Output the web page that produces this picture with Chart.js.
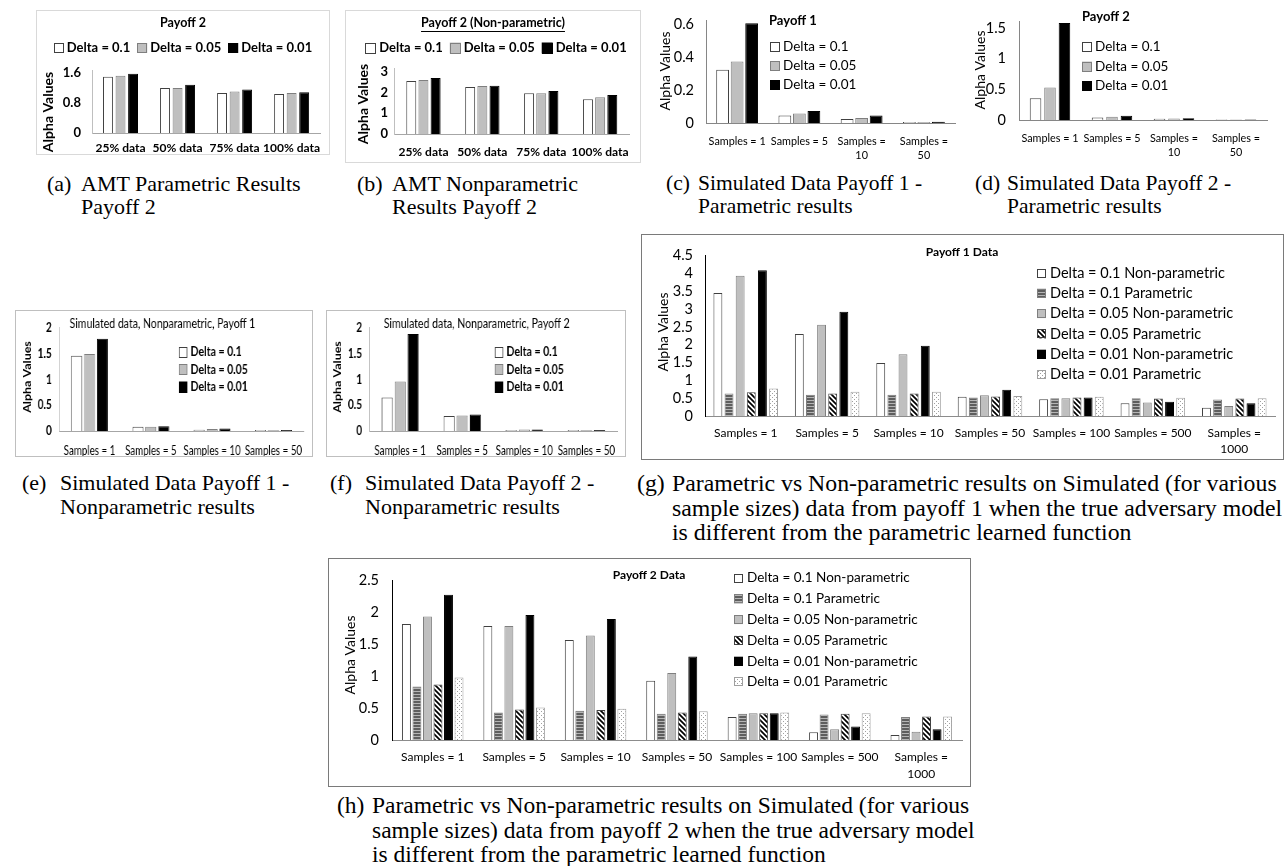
<!DOCTYPE html>
<html>
<head>
<meta charset="utf-8">
<script src="https://cdn.jsdelivr.net/npm/chart.js@4.4.1/dist/chart.umd.min.js"></script>
<style>
  body { margin: 0; background: #fff; width: 1285px; height: 866px; position: relative; overflow: hidden; }
  .panel { position: absolute; }
  .panel canvas { display: block; }
  .light { border: 1px solid #d9d9d9; }
  .mid { border: 1px solid #bfbfbf; }
  .dark { border: 1px solid #7a7a7a; }
  .cap { position: absolute; display: flex; font-family: "Liberation Serif", "DejaVu Serif", serif; font-size: 22px; line-height: 23px; white-space: nowrap; color: #000; }
  .cap .lab { display: inline-block; flex: none; }
</style>
</head>
<body>

<div class="panel light" style="left:36px;top:10px"><canvas id="chartA" width="292" height="143"></canvas></div>
<div class="panel light" style="left:345px;top:10px"><canvas id="chartB" width="294" height="151"></canvas></div>
<div class="panel" style="left:650px;top:0px"><canvas id="chartC" width="315" height="165"></canvas></div>
<div class="panel" style="left:965px;top:0px"><canvas id="chartD" width="320" height="165"></canvas></div>
<!-- (e) and (f) were squeezed sideways in the original figure: draw wide, show narrow -->
<div class="panel mid" style="left:15px;top:310px"><canvas id="chartE" width="380" height="145" style="width:296px;height:145px"></canvas></div>
<div class="panel mid" style="left:326px;top:310px"><canvas id="chartF" width="382" height="145" style="width:298px;height:145px"></canvas></div>
<div class="panel dark" style="left:641px;top:234px"><canvas id="chartG" width="641" height="224"></canvas></div>
<div class="panel dark" style="left:328px;top:558px"><canvas id="chartH" width="641" height="227"></canvas></div>

<div class="cap" style="left:47px;top:172px"><span class="lab" style="width:34px">(a)</span><span>AMT Parametric Results<br>Payoff 2</span></div>
<div class="cap" style="left:357px;top:172px"><span class="lab" style="width:35px">(b)</span><span>AMT Nonparametric<br>Results Payoff 2</span></div>
<div class="cap" style="left:666px;top:172px;font-size:21.5px"><span class="lab" style="width:32px">(c)</span><span>Simulated Data Payoff 1 -<br>Parametric results</span></div>
<div class="cap" style="left:975px;top:172px;font-size:21.5px"><span class="lab" style="width:32px">(d)</span><span>Simulated Data Payoff 2 -<br>Parametric results</span></div>
<div class="cap" style="left:22px;top:471px;line-height:24px"><span class="lab" style="width:38px">(e)</span><span>Simulated Data Payoff 1 -<br>Nonparametric results</span></div>
<div class="cap" style="left:330px;top:471px;line-height:24px"><span class="lab" style="width:35px">(f)</span><span>Simulated Data Payoff 2 -<br>Nonparametric results</span></div>
<div class="cap" style="left:637px;top:471px;font-size:23.8px;line-height:24.5px"><span class="lab" style="width:35px">(g)</span><span>Parametric vs Non-parametric results on Simulated (for various<br>sample sizes) data from payoff 1 when the true adversary model<br>is different from the parametric learned function</span></div>
<div class="cap" style="left:337px;top:793px;font-size:23.5px;line-height:24.5px"><span class="lab" style="width:35px">(h)</span><span>Parametric vs Non-parametric results on Simulated (for various<br>sample sizes) data from payoff 2 when the true adversary model<br>is different from the parametric learned function</span></div>

<script>
// category labels
const amtLabels = ["25% data", "50% data", "75% data", "100% data"];
const simLabels = ["Samples = 1", "Samples = 5", ["Samples =", "10"], ["Samples =", "50"]];
const simLabelsFlat = ["Samples = 1", "Samples = 5", "Samples = 10", "Samples = 50"];
const bigLabels = ["Samples = 1", "Samples = 5", "Samples = 10", "Samples = 50", "Samples = 100", "Samples = 500", ["Samples =", "1000"]];

// y tick values of each panel
const ticksA = [0, 0.8, 1.6];
const ticksB = [0, 1, 2, 3];
const ticksC = [0, 0.2, 0.4, 0.6];
const ticksD = [0, 0.5, 1, 1.5];
const ticksEF = [0, 0.5, 1, 1.5, 2];
const ticksG = [0, 0.5, 1, 1.5, 2, 2.5, 3, 3.5, 4, 4.5];
const ticksH = [0, 0.5, 1, 1.5, 2, 2.5];

// series names
const deltaNames = ["Delta = 0.1", "Delta = 0.05", "Delta = 0.01"];
const compareNames = [
    "Delta = 0.1 Non-parametric", "Delta = 0.1 Parametric",
    "Delta = 0.05 Non-parametric", "Delta = 0.05 Parametric",
    "Delta = 0.01 Non-parametric", "Delta = 0.01 Parametric"
];

// (a) AMT parametric, payoff 2
const amtParD01 = [1.50, 1.20, 1.07, 1.04];
const amtParD005 = [1.53, 1.20, 1.11, 1.07];
const amtParD001 = [1.58, 1.29, 1.16, 1.09];

// (b) AMT non-parametric, payoff 2
const amtNonD01 = [2.55, 2.27, 1.96, 1.68];
const amtNonD005 = [2.60, 2.31, 1.96, 1.77];
const amtNonD001 = [2.70, 2.33, 2.07, 1.88];

// (c) simulated payoff 1, parametric
const simP1ParD01 = [0.325, 0.046, 0.025, 0.006];
const simP1ParD005 = [0.375, 0.058, 0.031, 0.006];
const simP1ParD001 = [0.61, 0.073, 0.046, 0.008];

// (d) simulated payoff 2, parametric
const simP2ParD01 = [0.355, 0.039, 0.020, 0.010];
const simP2ParD005 = [0.53, 0.054, 0.024, 0.010];
const simP2ParD001 = [1.58, 0.068, 0.030, 0.010];

// (e) simulated payoff 1, nonparametric
const simP1NonD01 = [1.46, 0.08, 0.024, 0.018];
const simP1NonD005 = [1.49, 0.08, 0.037, 0.018];
const simP1NonD001 = [1.79, 0.09, 0.049, 0.018];

// (f) simulated payoff 2, nonparametric
const simP2NonD01 = [0.65, 0.29, 0.020, 0.018];
const simP2NonD005 = [0.96, 0.30, 0.030, 0.018];
const simP2NonD001 = [1.88, 0.32, 0.030, 0.018];

// (g) payoff 1 data, parametric vs non-parametric
const p1NonD01 = [3.45, 2.30, 1.49, 0.54, 0.47, 0.36, 0.23];
const p1ParD01 = [0.63, 0.60, 0.60, 0.52, 0.50, 0.50, 0.46];
const p1NonD005 = [3.94, 2.56, 1.73, 0.58, 0.50, 0.38, 0.28];
const p1ParD005 = [0.67, 0.63, 0.63, 0.55, 0.52, 0.49, 0.49];
const p1NonD001 = [4.09, 2.93, 1.97, 0.74, 0.52, 0.40, 0.36];
const p1ParD001 = [0.77, 0.68, 0.68, 0.56, 0.54, 0.51, 0.50];

// (h) payoff 2 data, parametric vs non-parametric
const p2NonD01 = [1.82, 1.79, 1.57, 0.93, 0.36, 0.12, 0.08];
const p2ParD01 = [0.84, 0.43, 0.46, 0.41, 0.41, 0.40, 0.36];
const p2NonD005 = [1.94, 1.79, 1.64, 1.05, 0.42, 0.17, 0.13];
const p2ParD005 = [0.87, 0.48, 0.47, 0.43, 0.42, 0.41, 0.37];
const p2NonD001 = [2.28, 1.96, 1.90, 1.31, 0.42, 0.21, 0.17];
const p2ParD001 = [0.98, 0.51, 0.49, 0.45, 0.43, 0.42, 0.37];

const SANS = "Lato, 'Open Sans', sans-serif";

function font(size, weight) {
    return `${weight || "normal"} ${size}px ${SANS}`;
}

// Small tiles for the hatched bars
function pattern(kind) {
    const c = document.createElement("canvas");
    const p = c.getContext("2d");
    if (kind === "stripes") {
        c.width = 4; c.height = 3;
        p.fillStyle = "#5e5e5e"; p.fillRect(0, 0, 4, 3);
        p.fillStyle = "#b5b5b5"; p.fillRect(0, 0, 4, 1);
    } else if (kind === "diagonal") {
        c.width = 5; c.height = 5;
        p.fillStyle = "#fff"; p.fillRect(0, 0, 5, 5);
        p.strokeStyle = "#000"; p.lineWidth = 1.7;
        p.beginPath();
        p.moveTo(-1, -1); p.lineTo(6, 6);
        p.moveTo(-1, 4); p.lineTo(1, 6);
        p.moveTo(4, -1); p.lineTo(6, 1);
        p.stroke();
    } else {
        c.width = 4; c.height = 4;
        p.fillStyle = "#fff"; p.fillRect(0, 0, 4, 4);
        p.fillStyle = "#a0a0a0"; p.fillRect(0, 0, 1, 1); p.fillRect(2, 2, 1, 1);
    }
    return p.createPattern(c, "repeat");
}

const WHITE = { bg: "#ffffff", border: "#404040" };
const GREY = { bg: "#bfbfbf", border: "#7f7f7f" };
const BLACK = { bg: "#000000", border: "#000000" };
const STRIPES = { bg: pattern("stripes"), border: "#7f7f7f" };
const DIAGONAL = { bg: pattern("diagonal"), border: "#404040" };
const DOTS = { bg: pattern("dots"), border: "#a0a0a0" };

const deltaLooks = [WHITE, GREY, BLACK];
const compareLooks = [WHITE, STRIPES, GREY, DIAGONAL, BLACK, DOTS];

// Draws the chart title, the legend and the rotated axis title where Excel put them
const annotate = {
    id: "annotate",
    afterDraw(chart, args, opts) {
        const ctx = chart.ctx;
        ctx.save();
        ctx.fillStyle = "#000";
        ctx.textBaseline = "middle";

        if (opts.title) {
            const t = opts.title;
            ctx.font = t.font;
            ctx.textAlign = t.align || "center";
            ctx.fillText(t.text, t.x, t.y);
            if (t.underline) {
                const w = ctx.measureText(t.text).width;
                const x0 = t.align === "left" ? t.x : t.x - w / 2;
                ctx.fillRect(x0, t.y + t.underline, w, 1);
            }
        }

        if (opts.legend) {
            const l = opts.legend;
            const sets = chart.data.datasets;
            ctx.font = l.font;
            ctx.textAlign = "left";
            let x = l.x;
            let y = l.y;
            if (l.row) {
                let total = 0;
                sets.forEach((ds, i) => {
                    total += l.box + l.pad + ctx.measureText(ds.label).width;
                    if (i < sets.length - 1) total += l.space;
                });
                x = l.x - total / 2;
            }
            sets.forEach(ds => {
                ctx.fillStyle = ds.backgroundColor;
                ctx.fillRect(x, y - l.box / 2, l.box, l.box);
                ctx.strokeStyle = ds.borderColor;
                ctx.lineWidth = 1;
                ctx.strokeRect(Math.round(x) + 0.5, Math.round(y - l.box / 2) + 0.5, l.box - 1, l.box - 1);
                ctx.fillStyle = "#000";
                ctx.fillText(ds.label, x + l.box + l.pad, y);
                if (l.row) {
                    x += l.box + l.pad + ctx.measureText(ds.label).width + l.space;
                } else {
                    y += l.step;
                }
            });
        }

        if (opts.yTitle) {
            const t = opts.yTitle;
            ctx.translate(t.x, t.y);
            ctx.rotate(-Math.PI / 2);
            ctx.font = t.font;
            ctx.textAlign = "center";
            ctx.fillStyle = "#000";
            ctx.fillText("Alpha Values", 0, 0);
        }
        ctx.restore();
    }
};

function drawBars(id, labels, names, series, looks, o) {
    return new Chart(document.getElementById(id), {
        type: "bar",
        data: {
            labels,
            datasets: series.map((data, i) => ({
                label: names[i],
                data,
                backgroundColor: looks[i].bg,
                borderColor: looks[i].border,
                borderWidth: 1,
                categoryPercentage: o.cat,
                barPercentage: o.bar
            }))
        },
        options: {
            responsive: false,
            animation: false,
            events: [],
            layout: { padding: { left: 0, top: o.top, right: o.right, bottom: 0 } },
            plugins: {
                legend: { display: false },
                tooltip: { enabled: false },
                annotate: o.annotate
            },
            scales: {
                x: {
                    grid: { display: false, drawTicks: false },
                    border: { display: true, color: o.xLine || "#8c8c8c", width: 1 },
                    ticks: {
                        font: o.xFont, color: "#000", padding: o.xPad,
                        maxRotation: 0, minRotation: 0, autoSkip: false
                    },
                    afterFit: s => { s.height = o.xHeight; }
                },
                y: {
                    min: 0,
                    max: o.max,
                    grid: { display: false, drawTicks: false },
                    border: { display: true, color: o.yLine || "#8c8c8c", width: 1 },
                    ticks: {
                        font: o.yFont, color: "#000", padding: o.yPad, autoSkip: false,
                        callback: v => String(Math.round(v * 100) / 100)
                    },
                    afterBuildTicks: s => {
                        s.ticks = o.ticks.map(v => ({ value: v }));
                    },
                    afterFit: s => { s.width = o.yWidth; }
                }
            }
        },
        plugins: [annotate]
    });
}

Chart.defaults.font.family = SANS;

// (a)
drawBars("chartA", amtLabels, deltaNames, [amtParD01, amtParD005, amtParD001], deltaLooks, {
    max: 1.68, ticks: ticksA, top: 59, right: 7, yWidth: 55, xHeight: 21,
    cat: 0.66, bar: 0.79, xPad: 8, yPad: 11,
    xFont: { size: 12, weight: "bold" }, yFont: { size: 13, weight: "bold" },
    xLine: "#a6a6a6", yLine: "#bfbfbf",
    annotate: {
        title: { text: "Payoff 2", x: 146, y: 12, font: font(12.5, "bold") },
        legend: { row: true, x: 146, y: 37, box: 10, pad: 3, space: 7, font: font(13, "bold") },
        yTitle: { x: 11, y: 101, font: font(14, "bold") }
    }
});

// (b)
drawBars("chartB", amtLabels, deltaNames, [amtNonD01, amtNonD005, amtNonD001], deltaLooks, {
    max: 3.18, ticks: ticksB, top: 57, right: 3, yWidth: 48, xHeight: 28,
    cat: 0.62, bar: 0.82, xPad: 11, yPad: 6,
    xFont: { size: 12, weight: "bold" }, yFont: { size: 13, weight: "bold" },
    xLine: "#a6a6a6", yLine: "#bfbfbf",
    annotate: {
        title: { text: "Payoff 2 (Non-parametric)", x: 147, y: 12, font: font(12.5, "bold"), underline: 8 },
        legend: { row: true, x: 150, y: 37, box: 11, pad: 3, space: 7, font: font(13, "bold") },
        yTitle: { x: 17, y: 93, font: font(14, "bold") }
    }
});

// (c)
drawBars("chartC", simLabels, deltaNames, [simP1ParD01, simP1ParD005, simP1ParD001], deltaLooks, {
    max: 0.625, ticks: ticksC, top: 15, right: 10, yWidth: 56, xHeight: 42,
    cat: 0.7, bar: 0.88, xPad: 11, yPad: 12,
    xFont: { size: 10.8, lineHeight: 1.35 }, yFont: { size: 14.5 },
    xLine: "#868686", yLine: "#868686",
    annotate: {
        title: { text: "Payoff 1", x: 119, y: 21, align: "left", font: font(13, "bold") },
        legend: { x: 120, y: 47, step: 19, box: 10, pad: 3, font: font(13.5) },
        yTitle: { x: 15, y: 71, font: font(14) }
    }
});

// (d)
drawBars("chartD", simLabels, deltaNames, [simP2ParD01, simP2ParD005, simP2ParD001], deltaLooks, {
    max: 1.6, ticks: ticksD, top: 10, right: 18, yWidth: 54, xHeight: 45,
    cat: 0.7, bar: 0.8, xPad: 11, yPad: 13,
    xFont: { size: 10.8, lineHeight: 1.35 }, yFont: { size: 14.5 },
    xLine: "#868686", yLine: "#868686",
    annotate: {
        title: { text: "Payoff 2", x: 117, y: 17, align: "left", font: font(13, "bold") },
        legend: { x: 117, y: 47, step: 19.5, box: 10, pad: 3, font: font(13.5) },
        yTitle: { x: 15, y: 70, font: font(14) }
    }
});

// (e) canvas x coordinates here are 1/0.78 of the shown ones
drawBars("chartE", simLabelsFlat, deltaNames, [simP1NonD01, simP1NonD005, simP1NonD001], deltaLooks, {
    max: 2, ticks: ticksEF, top: 11, right: 7, yWidth: 55, xHeight: 25,
    cat: 0.63, bar: 0.85, xPad: 12, yPad: 9,
    xFont: { size: 12.5 }, yFont: { size: 13, weight: "bold" },
    xLine: "#a6a6a6", yLine: "#bfbfbf",
    annotate: {
        title: { text: "Simulated data, Nonparametric, Payoff 1", x: 188, y: 13, font: font(13.5) },
        legend: { x: 209, y: 41, step: 17.5, box: 11, pad: 4, font: font(13.5, "bold") },
        yTitle: { x: 15, y: 66, font: font(12.5, "bold") }
    }
});

// (f)
drawBars("chartF", simLabelsFlat, deltaNames, [simP2NonD01, simP2NonD005, simP2NonD001], deltaLooks, {
    max: 2, ticks: ticksEF, top: 11, right: 7, yWidth: 54, xHeight: 25,
    cat: 0.63, bar: 0.85, xPad: 12, yPad: 9,
    xFont: { size: 12.5 }, yFont: { size: 13, weight: "bold" },
    xLine: "#a6a6a6", yLine: "#bfbfbf",
    annotate: {
        title: { text: "Simulated data, Nonparametric, Payoff 2", x: 192, y: 13, font: font(13.5) },
        legend: { x: 215, y: 41, step: 17.5, box: 11, pad: 4, font: font(13.5, "bold") },
        yTitle: { x: 14, y: 66, font: font(12.5, "bold") }
    }
});

// (g)
drawBars("chartG", bigLabels, compareNames,
    [p1NonD01, p1ParD01, p1NonD005, p1ParD005, p1NonD001, p1ParD001], compareLooks, {
    max: 4.5, ticks: ticksG, top: 12, right: 8, yWidth: 63, xHeight: 43,
    cat: 0.82, bar: 0.8, xPad: 9, yPad: 12,
    xFont: { size: 12, lineHeight: 1.33 }, yFont: { size: 14.5 },
    xLine: "#8c8c8c", yLine: "#000",
    annotate: {
        title: { text: "Payoff 1 Data", x: 320, y: 17, font: font(12, "bold") },
        legend: { x: 395, y: 38, step: 20.3, box: 9, pad: 4, font: font(14.5) },
        yTitle: { x: 21, y: 97, font: font(14) }
    }
});

// (h)
drawBars("chartH", bigLabels, compareNames,
    [p2NonD01, p2ParD01, p2NonD005, p2ParD005, p2NonD001, p2ParD001], compareLooks, {
    max: 2.5, ticks: ticksH, top: 13, right: 8, yWidth: 63, xHeight: 46,
    cat: 0.775, bar: 0.85, xPad: 9, yPad: 13,
    xFont: { size: 12, lineHeight: 1.38 }, yFont: { size: 14.5 },
    xLine: "#8c8c8c", yLine: "#000",
    annotate: {
        title: { text: "Payoff 2 Data", x: 320, y: 16, font: font(12, "bold") },
        legend: { x: 405, y: 19, step: 20.8, box: 9, pad: 4, font: font(13.5) },
        yTitle: { x: 21, y: 96, font: font(14) }
    }
});
</script>
</body>
</html>
